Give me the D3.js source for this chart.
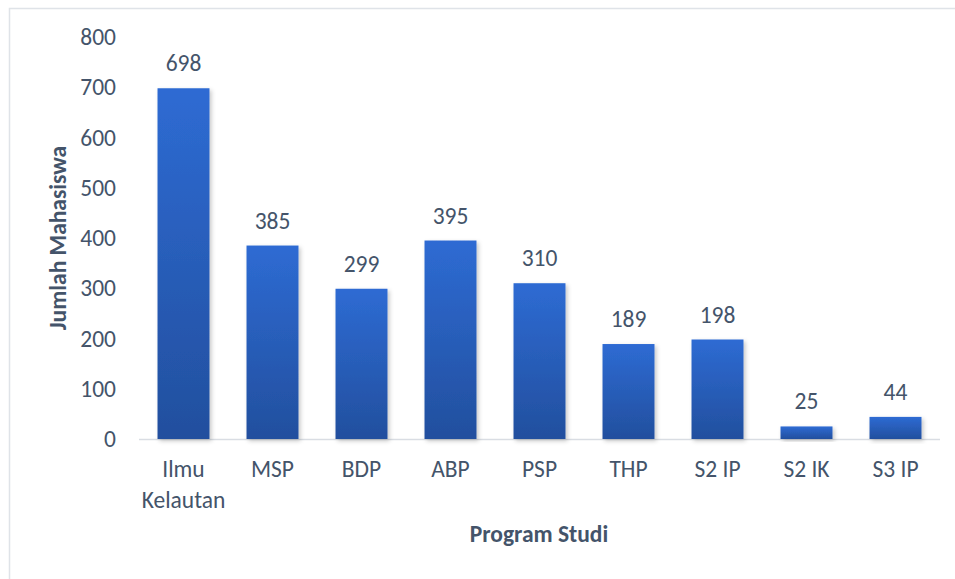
<!DOCTYPE html>
<html>
<head>
<meta charset="utf-8">
<script src="https://cdn.jsdelivr.net/npm/d3@7"></script>
<style>
  html, body { margin: 0; padding: 0; background: #fff; }
  svg { display: block; }
  text { font-family: Carlito, Calibri, Lato, sans-serif; fill: #44546a; }
</style>
</head>
<body>
<svg width="955" height="579"></svg>
<script>
const categories = [['Ilmu', 'Kelautan'], ['MSP'], ['BDP'], ['ABP'], ['PSP'], ['THP'], ['S2 IP'], ['S2 IK'], ['S3 IP']];
const values = [698, 385, 299, 395, 310, 189, 198, 25, 44];
const yTicks = [0, 100, 200, 300, 400, 500, 600, 700, 800];
const yTitle = 'Jumlah Mahasiswa';
const xTitle = 'Program Studi';

const svg = d3.select('svg');
const width = +svg.attr('width');
const height = +svg.attr('height');

// chart frame
svg.append('rect')
  .attr('x', 9.5)
  .attr('y', 8.5)
  .attr('width', width)
  .attr('height', height)
  .attr('fill', 'none')
  .attr('stroke', '#dfe3e8')
  .attr('stroke-width', 1.5);

const defs = svg.append('defs');
const grad = defs.append('linearGradient')
  .attr('id', 'barGrad')
  .attr('x1', 0).attr('y1', 0)
  .attr('x2', 0).attr('y2', 1);
grad.append('stop').attr('offset', '0%').attr('stop-color', '#2e6bd3');
grad.append('stop').attr('offset', '100%').attr('stop-color', '#224f9e');

const shadow = defs.append('filter')
  .attr('id', 'shadow')
  .attr('x', '-20%').attr('y', '-20%')
  .attr('width', '140%').attr('height', '140%');
shadow.append('feDropShadow')
  .attr('dx', 2).attr('dy', 2)
  .attr('stdDeviation', 2)
  .attr('flood-color', '#000')
  .attr('flood-opacity', 0.22);

const x = d3.scaleBand()
  .domain(categories.map(d => d.join(' ')))
  .range([139, 940])
  .paddingInner(0.416)
  .paddingOuter(0.208);

const y = d3.scaleLinear()
  .domain([0, 800])
  .range([439, 37]);

// y axis labels
const yAxis = svg.append('g')
  .attr('transform', 'translate(116,0)')
  .call(d3.axisLeft(y).tickValues(yTicks).tickSize(0).tickPadding(0));
yAxis.select('.domain').remove();
yAxis.selectAll('text')
  .attr('font-size', 23.5)
  .attr('fill', '#44546a');

// baseline
svg.append('line')
  .attr('x1', 139).attr('x2', 940)
  .attr('y1', y(0) + 0.5).attr('y2', y(0) + 0.5)
  .attr('stroke', '#d9dde3')
  .attr('stroke-width', 1.5);

const bars = svg.append('g')
  .selectAll('rect')
  .data(values)
  .enter()
  .append('rect')
  .attr('x', (d, i) => x(categories[i].join(' ')))
  .attr('y', d => y(d))
  .attr('width', x.bandwidth())
  .attr('height', d => y(0) - y(d))
  .attr('fill', 'url(#barGrad)')
  .attr('filter', 'url(#shadow)')
;

// value labels
svg.append('g')
  .selectAll('text')
  .data(values)
  .enter()
  .append('text')
  .attr('x', (d, i) => x(categories[i].join(' ')) + x.bandwidth() / 2)
  .attr('y', d => y(d) - 17)
  .attr('text-anchor', 'middle')
  .attr('font-size', 23.5)
  .text(d => d);

// category labels
const catLabels = svg.append('g')
  .selectAll('text')
  .data(categories)
  .enter()
  .append('text')
  .attr('x', d => x(d.join(' ')) + x.bandwidth() / 2)
  .attr('y', 477)
  .attr('text-anchor', 'middle')
  .attr('font-size', 23.5);
catLabels.selectAll('tspan')
  .data(d => d)
  .enter()
  .append('tspan')
  .attr('x', function () { return this.parentNode.getAttribute('x'); })
  .attr('dy', (d, i) => i === 0 ? 0 : 31)
  .text(d => d);

// axis titles
svg.append('text')
  .attr('transform', 'translate(66,238) rotate(-90)')
  .attr('text-anchor', 'middle')
  .attr('font-size', 23.5)
  .attr('font-weight', 'bold')
  .text(yTitle);

svg.append('text')
  .attr('x', 539)
  .attr('y', 542)
  .attr('text-anchor', 'middle')
  .attr('font-size', 23.5)
  .attr('font-weight', 'bold')
  .text(xTitle);
</script>
</body>
</html>
